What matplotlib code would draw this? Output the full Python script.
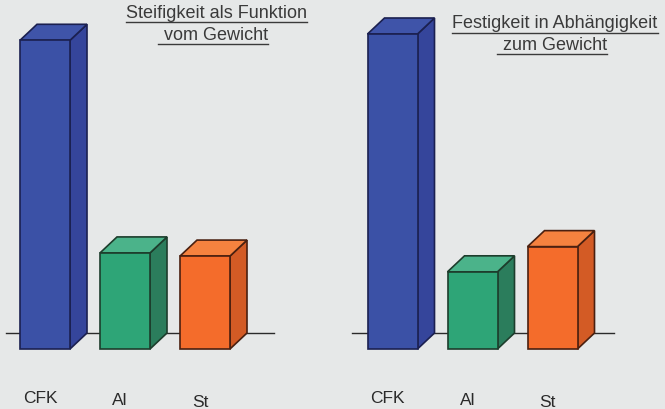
import matplotlib.pyplot as plt
from matplotlib.patches import Polygon
from matplotlib.lines import Line2D

plt.rcParams['font.family'] = ['Liberation Sans', 'DejaVu Sans']

# Daten (relative Werte, CFK = 100)
materials = ['CFK', 'Al', 'St']
stiffness = [98, 30.5, 29.5]
strength = [100, 24.5, 32.5]
titles = ['Steifigkeit als Funktion\nvom Gewicht',
          'Festigkeit in Abhängigkeit\nzum Gewicht']

front = ['#3b51a6', '#2ea577', '#f46c2b']
side = ['#35459b', '#2b7d5c', '#d35b25']
top = ['#3f54a9', '#4bb38a', '#f5823f']
edge = ['#1b2050', '#1d3d2c', '#4a2010']

bg = '#e6e8e8'
W, H = 665, 410
px_per_unit_y = 3.15
px_per_unit_x = 80.0
width = 50 / px_per_unit_x
dx = 17 / px_per_unit_x
dy = 16 / px_per_unit_y

fig = plt.figure(figsize=(W / 100, H / 100), dpi=100, facecolor=bg)


def draw_panel(left_px, right_px, center0_px, values, line_px, title, title_xy):
    ax = fig.add_axes([left_px / W, 0, (right_px - left_px) / W, 1])
    ax.set_facecolor(bg)
    x_lo = -(center0_px - left_px) / px_per_unit_x
    ax.set_xlim(x_lo, x_lo + (right_px - left_px) / px_per_unit_x)
    ax.set_ylim(-(H - 350) / px_per_unit_y, 350 / px_per_unit_y)
    ax.axis('off')

    # Grundlinie (hinten)
    ax.plot([(line_px[0] - center0_px) / px_per_unit_x,
             (line_px[1] - center0_px) / px_per_unit_x], [dy, dy],
            color='#2a2a2a', lw=1, zorder=1)

    for i, v in enumerate(values):
        x0 = i - width / 2
        x1 = x0 + width
        ax.add_patch(Polygon([(x1, 0), (x1 + dx, dy), (x1 + dx, v + dy), (x1, v)],
                             closed=True, fc=side[i], ec=edge[i], lw=1.2, zorder=2))
        ax.add_patch(Polygon([(x0, v), (x0 + dx, v + dy), (x1 + dx, v + dy), (x1, v)],
                             closed=True, fc=top[i], ec=edge[i], lw=1.2, zorder=2))
        ax.add_patch(Polygon([(x0, 0), (x0, v), (x1, v), (x1, 0)],
                             closed=True, fc=front[i], ec=edge[i], lw=1.2, zorder=3))
        ax.text(i - 0.06, -15.4 - i * 0.6, materials[i], ha='center', va='center',
                fontsize=12.5, color='#2a2a2a')

    lines = title.split('\n')
    texts = []
    for k, line in enumerate(lines):
        t = fig.text(title_xy[0] / W, 1 - title_xy[1][k] / H, line, ha='center',
                     va='center', fontsize=13, color='#3a3a3a')
        texts.append(t)
    return texts


t1 = draw_panel(0, 332, 45, stiffness, (6, 274), titles[0], (216, (13.5, 35.5)))
t2 = draw_panel(333, 665, 392.5, strength, (352, 614), titles[1], (555, (24, 45.5)))

# Unterstreichung der Titel
fig.canvas.draw()
renderer = fig.canvas.get_renderer()
for texts in (t1, t2):
    for k, t in enumerate(texts):
        bb = t.get_window_extent(renderer)
        x0 = bb.x0 - (6 if k == 1 else 0)
        y = bb.y0 - 1
        fig.add_artist(Line2D([x0 / W, bb.x1 / W], [y / H, y / H],
                              transform=fig.transFigure, color='#3a3a3a', lw=1))

fig.savefig('out.png', dpi=100, facecolor=bg)
